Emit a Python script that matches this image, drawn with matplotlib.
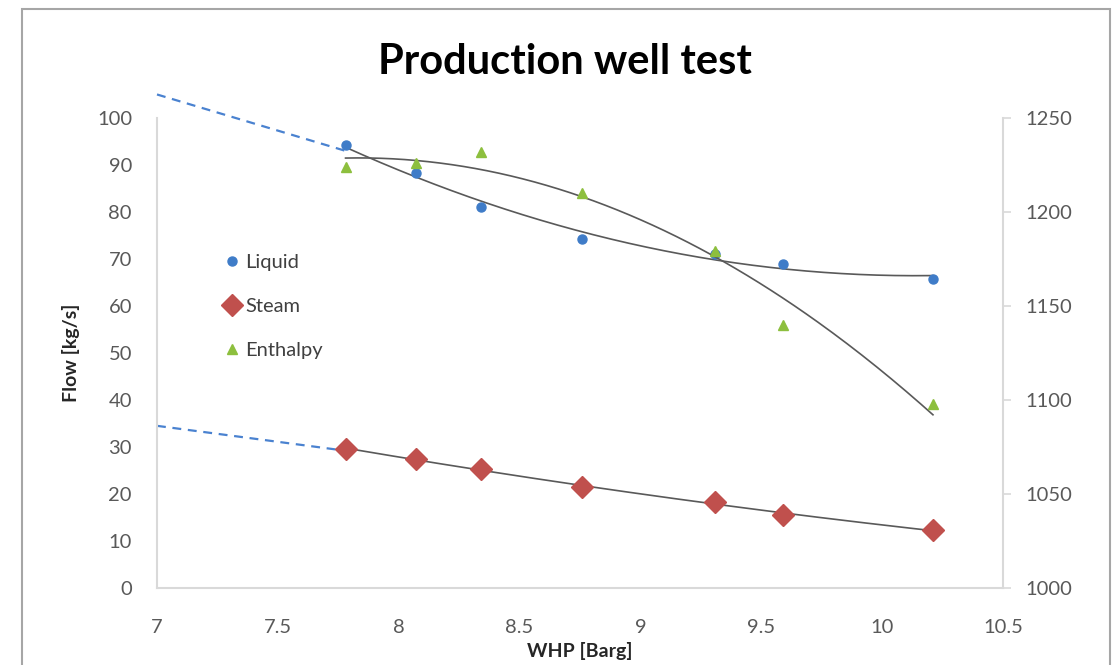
import matplotlib
matplotlib.use("Agg")
import matplotlib.pyplot as plt
import numpy as np
from matplotlib.patches import Rectangle

plt.rcParams["font.family"] = ["Lato", "DejaVu Sans"]

# well test readings
whp = [7.78, 8.07, 8.34, 8.76, 9.31, 9.59, 10.21]
liquid = [94.2, 88.2, 81.1, 74.3, 71.1, 68.9, 65.7]
steam = [29.6, 27.4, 25.3, 21.5, 18.3, 15.5, 12.3]
enthalpy = [1224, 1226, 1232, 1210, 1179, 1140, 1098]

# hand-drawn extrapolation back to 7 barg
extrap_x = [7.0, 7.78]
liquid_extrap = [105.0, 93.0]
steam_extrap = [34.5, 29.2]

x_ticks = [7, 7.5, 8, 8.5, 9, 9.5, 10, 10.5]
flow_ticks = list(range(0, 101, 10))
enth_ticks = list(range(1000, 1251, 50))

BLUE = "#3F7CC8"
DASH = "#4A82D0"
RED = "#C0504D"
GREEN = "#8DBF3E"
TREND = "#595959"
AXIS = "#D9D9D9"
LABEL = "#595959"

fig = plt.figure(figsize=(11.15, 6.65), dpi=100)
ax = fig.add_axes([0.1408, 0.1158, 0.7588, 0.7068])
ax2 = ax.twinx()

# polynomial trend lines (order 2, like the spreadsheet trendlines)
xs = np.linspace(min(whp), max(whp), 200)
for ser, axis in ((liquid, ax), (steam, ax), (enthalpy, ax2)):
    c = np.polyfit(whp, ser, 2)
    axis.plot(xs, np.polyval(c, xs), color=TREND, lw=1.2, zorder=2)

ax.plot(extrap_x, liquid_extrap, ls=(0, (4, 3)), color=DASH, lw=1.6, zorder=2, clip_on=False)
ax.plot(extrap_x, steam_extrap, ls=(0, (4, 3)), color=DASH, lw=1.6, zorder=2, clip_on=False)

h1, = ax.plot(whp, liquid, "o", color=BLUE, ms=6.5, ls="none", label="Liquid", zorder=3)
h2, = ax.plot(whp, steam, "D", color=RED, ms=11, ls="none", label="Steam", zorder=3)
h3, = ax2.plot(whp, enthalpy, "^", color=GREEN, ms=6.5, ls="none", label="Enthalpy", zorder=3)

ax.set_xlim(7, 10.5)
ax.set_ylim(0, 100)
ax2.set_ylim(1000, 1250)
ax.set_xticks(x_ticks)
ax.set_xticklabels([f"{v:g}" for v in x_ticks])
ax.set_yticks(flow_ticks)
ax2.set_yticks(enth_ticks)

for a in (ax, ax2):
    for s in a.spines.values():
        s.set_color(AXIS)
        s.set_linewidth(1.5)
    a.spines["top"].set_visible(False)
ax.spines["right"].set_visible(False)
ax2.spines["left"].set_visible(False)
ax2.spines["bottom"].set_visible(False)

ax.tick_params(axis="both", length=0, labelsize=14.5, labelcolor=LABEL)
ax.tick_params(axis="y", pad=18)
ax.tick_params(axis="x", pad=22)
ax2.tick_params(axis="y", length=6, width=1.2, color=AXIS, labelsize=14.5,
                labelcolor=LABEL, pad=10)

ax.set_xlabel("WHP [Barg]", fontsize=14, fontweight="bold", color="#262626", labelpad=5)
ax.set_ylabel("Flow [kg/s]", fontsize=14, fontweight="bold", color="#262626", labelpad=12)
ax.set_title("Production well test", fontsize=30, fontweight="bold", pad=32, x=0.482)

ax.legend(handles=[h1, h2, h3], loc="upper left", bbox_to_anchor=(0.06, 0.75),
          frameon=False, fontsize=14.5, handlelength=0.6, handletextpad=0.35,
          labelspacing=1.35, labelcolor="#404040")

fig.patches.append(Rectangle((22 / 1115, -0.05), (1110 - 22) / 1115, 1.05 - 9 / 665,
                             transform=fig.transFigure, fill=False,
                             edgecolor="#A6A6A6", lw=1.5))

fig.savefig("out.png", dpi=100)
